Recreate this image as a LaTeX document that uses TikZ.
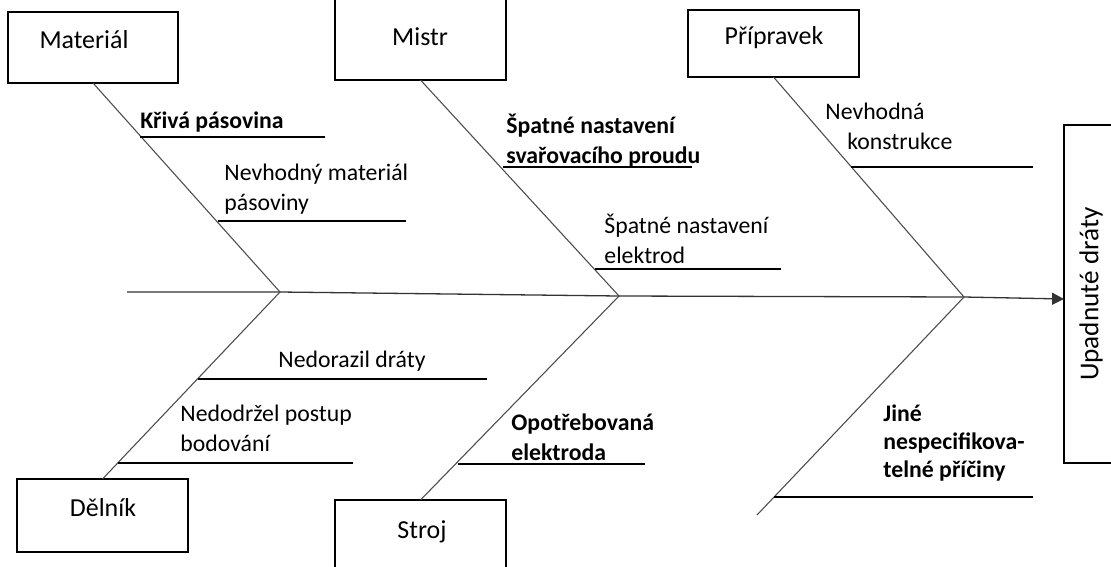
\documentclass[tikz,border=0pt]{standalone}
\usepackage{fontspec}
\setmainfont{Carlito}
\usetikzlibrary{arrows.meta}
\newdimen\pxu
\pxu=0.463pt
\tikzset{
  catbox/.style={draw, line width=0.9pt, rectangle, inner sep=0pt, outer sep=0pt},
  head/.style={font=\fontsize{12pt}{14pt}\selectfont, inner sep=0pt},
  % multi-line causes are placed by the baseline of their last line
  cause/.style={font=\fontsize{11pt}{13.6pt}\selectfont, align=left, anchor=base west, inner sep=0pt},
  boldcause/.style={cause, font=\fontsize{11pt}{13.6pt}\selectfont\bfseries},
  bone/.style={draw=black!70, line width=0.5pt},
  twig/.style={draw=black, line width=0.5pt},
  spine/.style={draw=black!80, line width=0.6pt, -{Triangle[length=5.5pt, width=5.5pt]}}
}
\begin{document}
\begin{tikzpicture}[x=0.463pt, y=-0.463pt]
\useasboundingbox (0,0) rectangle (1111,566);
\clip (0,0) rectangle (1111,566);

% category boxes
\node[catbox, minimum width=170\pxu, minimum height=71\pxu] (bMat) at (93,47.5) {};
\node[catbox, minimum width=171\pxu, minimum height=110\pxu] (bMistr) at (420.5,25) {};
\node[catbox, minimum width=171\pxu, minimum height=67\pxu] (bPrip) at (773.5,43.5) {};
\node[catbox, minimum width=171\pxu, minimum height=73\pxu] (bDel) at (102.5,515.5) {};
\node[catbox, minimum width=171\pxu, minimum height=100\pxu] (bStroj) at (420.5,550) {};
\node[catbox, minimum width=80\pxu, minimum height=338\pxu] (bEff) at (1104,294) {};

% category labels
\node[head, anchor=base] (tMat) at (84,48) {Materiál};
\node[head, anchor=base] (tMistr) at (420,45) {Mistr};
\node[head, anchor=base] (tPrip) at (774,44) {Přípravek};
\node[head, anchor=base] (tDel) at (103,516) {Dělník};
\node[head, anchor=base] (tStroj) at (422,538) {Stroj};
\node[head, font=\fontsize{12.6pt}{14pt}\selectfont, rotate=90] (tEff) at (1091,294) {Upadnuté dráty};

% spine vertices
\coordinate (tail) at (127,292);
\coordinate (vA) at (280,292);
\coordinate (vB) at (619,296);
\coordinate (vC) at (964,297);
\coordinate (jEnd) at (757,515);
\coordinate (tipY) at (0,299);

% spine with arrow into the effect box
\draw[spine] (tail) -- (vA) -- (vB) -- (vC) -- (bEff.west |- tipY);

% main bones
\draw[bone] (bMat.south) -- (vA) -- (bDel.north);
\draw[bone] (bMistr.south) -- (vB) -- (bStroj.north);
\draw[bone] (bPrip.south) -- (vC) -- (jEnd);

% causes
\node[boldcause] (c1) at (140,128) {Křivá pásovina};
\draw[twig] (140,137) -- (325,137);

\node[cause] (c2) at (224,210) {Nevhodný materiál\\pásoviny};
\draw[twig] (218,221) -- (406,221);

\node[boldcause] (c3) at (506,163) {Špatné nastavení\\svařovacího proudu};
\draw[twig] (503,167) -- (692,167);

\node[cause] (c4) at (604,263) {Špatné nastavení\\elektrod};
\draw[twig] (595,269) -- (781,269);

\node[cause] (c5) at (825,149) {Nevhodná\\\hspace*{22\pxu}konstrukce};
\draw[twig] (851,167) -- (1033,167);

\node[cause] (c6) at (278,367) {Nedorazil dráty};
\draw[twig] (198,379) -- (487,379);

\node[cause] (c7) at (180,451) {Nedodržel postup\\bodování};
\draw[twig] (118,463) -- (353,463);

\node[boldcause] (c8) at (511,460) {Opotřebovaná\\elektroda};
\draw[twig] (458,464) -- (645,464);

\node[boldcause, font=\fontsize{11pt}{12.9pt}\selectfont\bfseries] (c9) at (883,477) {Jiné\\nespecifikova-\\telné příčiny};
\draw[twig] (774,497) -- (1033,497);
\end{tikzpicture}
\end{document}
